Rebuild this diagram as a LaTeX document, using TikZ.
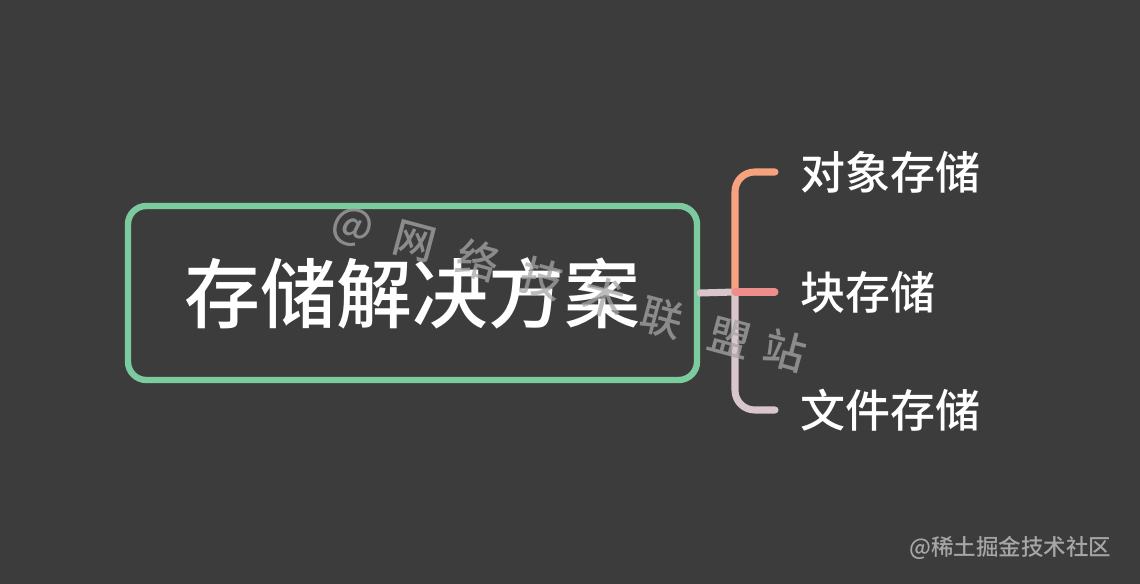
\documentclass[tikz,border=0pt]{standalone}
\usepackage{fontspec}
\setmainfont{Noto Sans CJK SC}[UprightFont=* Medium]
\usetikzlibrary{positioning}

\definecolor{bg}{HTML}{3C3C3C}
\definecolor{boxgreen}{HTML}{7CCB9E}
\definecolor{topline}{HTML}{F7A27F}
\definecolor{midline}{HTML}{EE8E8A}
\definecolor{lowline}{HTML}{D9C6CD}
\definecolor{mark}{HTML}{A6A6A6}

\tikzset{
  rootbox/.style={draw=boxgreen, line width=4.5pt, rounded corners=13pt, fill=bg,
    minimum width=569*0.025cm, minimum height=174*0.025cm, text=white,
    font=\fontsize{54}{60}\selectfont},
  leaf/.style={anchor=west, inner sep=0pt, text=white,
    font=\fontsize{32}{36}\selectfont},
  branch/.style={line width=5pt, line cap=round, rounded corners=14pt},
  wm/.style={text=mark, opacity=.75, rotate=-15,
    font=\fontsize{30}{30}\selectfont}
}

\begin{document}
\begin{tikzpicture}[x=0.025cm, y=-0.025cm]
\useasboundingbox (0,0) rectangle (1140,584);
\fill[bg] (0,0) rectangle (1140,584);

\node[rootbox] at (412.5,293) (root) {存储解决方案};

\node[leaf] at (800,172) (obj) {对象存储};
\node[leaf] at (800,292) (blk) {块存储};
\node[leaf] at (800,410) (file) {文件存储};

\coordinate (fork) at (735,292);
%branches
\draw[branch, lowline] (root.east) -- (fork);
\draw[branch, topline] (fork) |- ([xshift=-25*0.025cm]obj.west);
\draw[branch, lowline] (fork) |- ([xshift=-25*0.025cm]file.west);
\draw[branch, midline] (fork) -- ([xshift=-25*0.025cm]blk.west);

%watermark
\node[wm] at (352,228) (w1) {@};
\node[wm] at (415,242) (w2) {网};
\node[wm] at (478,260) (w3) {络};
\node[wm] at (542,278) (w4) {技};
\node[wm] at (604,298) (w5) {术};
\node[wm] at (662,318) (w6) {联};
\node[wm] at (730,338) (w7) {盟};
\node[wm] at (785,350) (w8) {站};

\node[text=mark, anchor=east, font=\fontsize{16}{18}\selectfont] at (1116,548) (src) {@稀土掘金技术社区};
\end{tikzpicture}
\end{document}
